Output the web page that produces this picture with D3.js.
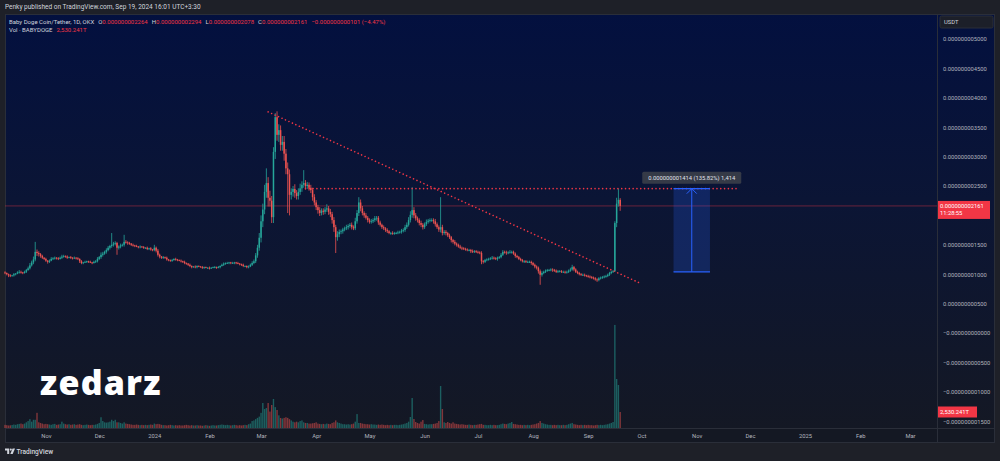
<!DOCTYPE html>
<html><head><meta charset="utf-8">
<script src="https://cdn.jsdelivr.net/npm/d3@7"></script>
<style>
html,body{margin:0;padding:0;background:#1e2028;}
svg{display:block;font-family:Roboto,"Noto Sans",sans-serif;}
</style></head><body>
<svg id="c" width="1000" height="461"></svg>
<script>
// ---------------- DATA (prices in units of 1e-9 USDT, volume in T) ----------------
const startDate = "2023-10-09";
const firstOpen = 1.03;
const closes = [
1.02,1.00,0.98,0.97,0.98,1.00,1.01,1.03,1.04,1.03,
1.02,1.04,1.07,1.10,1.15,1.20,1.25,1.38,1.36,1.34,
1.31,1.28,1.26,1.23,1.21,1.23,1.26,1.27,1.28,1.27,
1.26,1.28,1.30,1.31,1.30,1.28,1.29,1.28,1.27,1.28,
1.27,1.26,1.22,1.19,1.20,1.21,1.22,1.21,1.20,1.19,
1.21,1.22,1.26,1.29,1.33,1.35,1.38,1.41,1.45,1.48,
1.50,1.52,1.53,1.45,1.47,1.49,1.50,1.55,1.54,1.53,
1.52,1.50,1.49,1.48,1.47,1.46,1.47,1.46,1.45,1.45,
1.43,1.44,1.42,1.41,1.45,1.40,1.33,1.30,1.28,1.29,
1.28,1.25,1.24,1.23,1.24,1.26,1.25,1.24,1.23,1.22,
1.21,1.19,1.18,1.16,1.14,1.12,1.13,1.12,1.14,1.13,
1.12,1.11,1.12,1.11,1.11,1.10,1.11,1.12,1.12,1.11,
1.12,1.14,1.16,1.18,1.19,1.19,1.20,1.19,1.19,1.20,
1.19,1.18,1.17,1.16,1.14,1.14,1.12,1.13,1.16,1.19,
1.22,1.32,1.45,1.62,1.90,2.10,2.40,2.55,2.30,2.25,
1.97,3.08,3.67,3.37,3.45,3.20,3.25,3.05,2.80,2.70,
2.35,2.40,2.45,2.38,2.33,2.40,2.46,2.52,2.55,2.50,
2.52,2.47,2.43,2.31,2.22,2.14,2.09,2.04,2.08,2.06,
2.10,2.12,2.06,2.02,1.92,1.80,1.63,1.68,1.72,1.73,
1.76,1.78,1.80,1.82,1.84,1.80,1.78,1.90,2.04,2.22,
2.12,2.04,2.00,1.96,1.92,1.89,1.90,1.92,1.95,1.96,
1.88,1.84,1.80,1.78,1.75,1.73,1.70,1.70,1.69,1.70,
1.70,1.71,1.72,1.74,1.75,1.80,1.84,1.92,2.01,2.09,
2.00,1.95,1.92,1.87,1.84,1.80,1.85,1.89,1.91,1.92,
1.92,1.90,1.85,1.80,1.76,1.80,1.70,1.72,1.70,1.66,
1.63,1.58,1.55,1.52,1.50,1.47,1.45,1.44,1.43,1.42,
1.41,1.41,1.39,1.38,1.39,1.38,1.37,1.36,1.22,1.21,
1.24,1.25,1.26,1.27,1.28,1.27,1.26,1.28,1.29,1.33,
1.38,1.37,1.36,1.37,1.38,1.38,1.35,1.31,1.29,1.26,
1.24,1.22,1.22,1.21,1.21,1.21,1.19,1.16,1.13,1.11,
1.05,0.99,1.02,1.04,1.06,1.07,1.07,1.08,1.07,1.06,
1.04,1.05,1.05,1.04,1.04,1.03,1.04,1.06,1.08,1.12,
1.08,1.04,1.02,1.00,0.99,0.99,0.98,0.97,0.96,0.95,
0.94,0.93,0.91,0.90,0.93,0.94,0.95,0.96,0.97,0.99,
1.02,1.04,1.05,1.87,2.20,2.264,2.161];
// upper / lower wick lengths, in hundredths of 1e-9
const wickUp = [
2,1,1,2,1,2,1,2,3,2, 1,2,2,3,4,3,5,17,4,3, 2,2,1,2,1,2,3,2,2,1, 2,2,3,2,1,2,1,2,1,2,
1,2,1,2,1,2,1,1,2,1, 2,2,3,2,4,3,2,3,3,2, 20,3,3,2,2,3,2,12,3,2, 2,1,2,1,2,1,2,1,2,1,
2,1,2,1,5,2,3,2,1,2, 1,2,1,1,2,1,2,1,1,2, 1,2,1,1,2,1,1,2,1,1, 1,2,1,1,1,2,1,1,2,1,
2,1,2,2,1,2,1,1,2,1, 1,2,1,1,2,1,1,2,2,3, 3,4,5,8,10,10,12,25,10,12, 8,8,7,10,10,8,10,10,8,10,
8,6,5,8,5,6,8,6,22,5, 5,4,5,4,5,4,4,5,4,4, 4,7,4,5,4,5,4,5,4,3, 3,3,4,3,3,4,3,6,5,9,
5,4,3,4,3,3,4,3,4,3, 3,3,2,3,2,3,2,2,3,2, 2,3,2,3,3,4,4,5,6,39, 5,4,3,3,4,3,3,4,3,3,
3,3,4,3,3,51,4,3,3,2, 3,2,2,3,2,2,3,2,2,2, 2,2,2,3,2,2,2,2,3,2, 2,2,2,2,3,2,2,2,2,3,
3,2,3,2,3,2,2,2,2,2, 2,2,2,2,2,2,2,2,2,2, 2,3,3,2,2,2,2,2,2,2, 2,2,2,2,2,2,2,2,3,4,
2,2,2,2,2,2,2,1,2,2, 2,2,2,2,2,2,2,2,2,2, 2,2,2,3,10,19.1,3];
const wickDn = [
2,2,3,2,1,2,2,1,2,2, 2,1,2,1,2,2,3,3,5,4, 3,2,2,2,3,2,1,2,2,2, 2,1,2,2,2,2,1,2,2,1,
2,2,3,2,2,1,2,2,1,2, 1,2,2,2,3,3,2,3,2,3, 3,3,3,12,3,3,2,3,2,3, 2,2,2,2,1,2,2,1,2,2,
2,2,2,2,2,3,3,3,2,2, 2,2,2,2,2,1,2,2,1,2, 2,2,2,2,2,2,1,2,2,1, 1,2,2,1,2,2,1,1,2,2,
1,2,1,2,2,1,2,2,1,2, 2,1,2,2,2,2,2,2,1,2, 2,3,4,5,8,10,8,10,15,10, 10,10,12,10,12,10,10,12,10,66,
35,8,8,8,6,6,5,6,5,6, 5,5,5,6,5,5,6,5,4,5, 4,4,5,5,6,8,27,6,5,4, 4,3,3,4,3,4,3,3,4,5,
5,4,4,3,4,3,3,3,3,4, 4,3,3,3,3,3,2,3,2,2, 2,2,2,3,3,3,3,3,4,5, 5,4,4,4,4,4,3,3,3,3,
3,4,4,3,4,5,4,3,4,3, 3,4,3,3,3,2,2,3,2,2, 2,2,3,2,2,2,2,2,5,3, 2,2,2,2,2,2,2,3,2,2,
2,2,3,2,2,3,2,3,2,2, 2,2,3,2,2,2,3,2,3,3, 4,17,3,2,2,2,2,2,3,2, 2,2,2,2,2,2,2,2,2,2,
3,2,2,2,2,2,2,2,2,2, 2,2,2,3,2,2,2,2,2,2, 2,2,2,0.9,7,5,8.3];
const volumes = [
500,450,400,420,480,550,500,600,650,700, 600,700,900,1100,1400,1000,1300,1300,2400,900,
800,700,600,650,600,550,500,600,650,500, 550,600,1000,700,600,550,600,500,550,600,
500,550,600,500,450,500,550,500,450,500, 500,550,650,800,1700,1100,900,850,900,1000,
1300,1100,1300,900,900,800,700,900,700,650, 600,550,500,500,550,500,450,500,450,500,
450,500,550,500,700,600,650,600,500,450, 450,400,450,500,450,400,450,400,450,400,
400,450,500,450,400,450,400,400,450,400, 400,350,400,450,400,350,400,450,400,400,
450,500,550,500,450,500,450,400,450,500, 450,400,450,400,450,500,450,600,700,1100,
1200,1400,1600,1800,2400,3950,3000,3160,3950,2600, 3640,4590,3300,2850,2000,1580,1500,1600,1700,1600,
1400,1200,1000,900,1000,900,1100,1200,900,800, 800,700,700,750,800,900,700,650,600,650,
600,700,650,600,800,900,1200,900,800,700, 600,600,550,600,550,600,700,1000,2200,800,
800,700,650,600,600,550,600,550,550,500, 550,500,550,500,450,500,450,500,450,500,
500,450,500,550,600,700,800,1000,1740,4740, 1420,950,800,700,1000,1260,650,600,550,600,
600,650,700,800,1100,6640,3000,900,800,950, 800,700,900,700,650,600,550,600,550,500,
500,550,500,450,500,500,550,600,650,500, 500,450,450,500,450,500,450,450,500,600,
700,650,600,700,800,950,650,600,550,500, 500,450,500,450,500,450,500,550,600,700,
800,1100,800,700,600,550,500,500,450,500, 450,500,450,450,500,450,500,600,700,800,
600,550,500,450,500,450,500,450,500,450, 450,400,450,500,450,500,450,500,550,600,
700,800,950,16300,7750,6800,2530.241];

const priceTicks = [5,4.5,4,3.5,3,2.5,1.5,1,0.5,0,-0.5,-1,-1.5];
const priceTickLabels = ["0.000000005000","0.000000004500","0.000000004000","0.000000003500",
  "0.000000003000","0.000000002500","0.000000001500","0.000000001000",
  "0.000000000500","\u22120.000000000000","\u22120.000000000500","\u22120.000000001000","\u22120.000000001500"];
const timeTicks = ["2023-11-01","2023-12-01","2024-01-01","2024-02-01","2024-03-01","2024-04-01",
  "2024-05-01","2024-06-01","2024-07-01","2024-08-01","2024-09-01","2024-10-01","2024-11-01",
  "2024-12-01","2025-01-01","2025-02-01","2025-03-01"];
const timeTickLabels = ["Nov","Dec","2024","Feb","Mar","Apr","May","Jun","Jul","Aug","Sep","Oct","Nov","Dec","2025","Feb","Mar"];

const publishText = "Penky published on TradingView.com, Sep 19, 2024 16:01 UTC+3:30";
const symbolTitle = "Baby Doge Coin/Tether, 1D, OKX";
const ohlcKeys = ["O","H","L","C"];
const ohlcValues = ["0.000000002264","0.000000002294","0.000000002078","0.000000002161"];
const changeText = "\u22120.000000000101 (\u22124.47%)";
const volTitle = "Vol \u00B7 BABYDOGE";
const volValueText = "2,530.241T";
const lastPrice = 2.161, lastPriceText = "0.000000002161", countdown = "11:28:55";
const trendLine = [["2024-03-05",3.76],["2024-09-30",0.85]];
const resistLine = [["2024-03-26",2.455],["2024-11-25",2.455]];
const measure = {from:"2024-10-19", to:"2024-11-08T12:00", low:1.041, high:2.455,
  label:"0.000000001414 (135.82%) 1,414"};

// ---------------- DRAW ----------------
const W=1000,H=461;
const PX0=5, PX1=937, PY0=14, PY1=428, AX1=995, TY1=443;
const UP="#26a69a", DN="#ef5350", RED="#f23645";
const svg=d3.select("#c");
const defs=svg.append("defs");
const gr=defs.append("linearGradient").attr("id","bg").attr("x1",0).attr("y1",0).attr("x2",0).attr("y2",1);
gr.append("stop").attr("offset","0%").attr("stop-color","#03103f");
gr.append("stop").attr("offset","45%").attr("stop-color","#0b1535");
gr.append("stop").attr("offset","100%").attr("stop-color","#141824");

svg.append("rect").attr("width",W).attr("height",H).attr("fill","#1e2028");
svg.append("rect").attr("x",PX0).attr("y",PY0).attr("width",AX1-PX0).attr("height",PY1-PY0).attr("fill","url(#bg)");
svg.append("rect").attr("x",PX0).attr("y",PY1).attr("width",AX1-PX0).attr("height",TY1-PY1).attr("fill","#141823");
svg.append("line").attr("x1",PX0).attr("x2",AX1).attr("y1",PY1+0.5).attr("y2",PY1+0.5).attr("stroke","#2a2e39");
svg.append("line").attr("x1",PX1+0.5).attr("x2",PX1+0.5).attr("y1",PY0).attr("y2",TY1).attr("stroke","#2a2e39");
svg.append("rect").attr("x",PX0+0.5).attr("y",PY0+0.5).attr("width",AX1-PX0-1).attr("height",TY1-PY0-1)
  .attr("fill","none").attr("stroke","#2a2e39");

const parse = s => new Date(s.length>10 ? s+"Z" : s+"T00:00Z");
const t0 = parse(startDate);
const dates = closes.map((_,i)=> new Date(t0.getTime()+i*864e5));
const x = d3.scaleUtc().domain([parse("2023-10-09"),parse("2025-03-01")]).range([5,910]);
const y = d3.scaleLinear().domain([0,5]).range([333,39]);
const yv = d3.scaleLinear().domain([0,2530.241]).range([PY1,412]);

const bars = closes.map((c,i)=>{
  const o = i===0 ? firstOpen : closes[i-1];
  return {d:dates[i], o, c, h:Math.max(o,c)+wickUp[i]/100, l:Math.min(o,c)-wickDn[i]/100, v:volumes[i]};
});

// volume
svg.append("g").selectAll("rect").data(bars).join("rect")
  .attr("x",d=>x(d.d)-0.7).attr("width",1.4)
  .attr("y",d=>yv(d.v)).attr("height",d=>PY1-yv(d.v))
  .attr("fill",d=>d.c>=d.o?UP:DN).attr("fill-opacity",0.5);

// watermark
svg.append("text").attr("x",40).attr("y",395).attr("font-family","'Open Sans',sans-serif")
  .attr("font-weight",800).attr("font-size",34).attr("letter-spacing",1.2).attr("fill","#ffffff").text("zedarz");

// current price line
svg.append("line").attr("x1",PX0).attr("x2",PX1).attr("y1",y(lastPrice)).attr("y2",y(lastPrice))
  .attr("stroke",RED).attr("stroke-opacity",0.4).attr("stroke-width",1);

// candles
const cg = svg.append("g");
cg.selectAll("line").data(bars).join("line")
  .attr("x1",d=>x(d.d)).attr("x2",d=>x(d.d)).attr("y1",d=>y(d.h)).attr("y2",d=>y(d.l))
  .attr("stroke",d=>d.c>=d.o?UP:DN).attr("stroke-width",0.8);
cg.selectAll("rect").data(bars).join("rect")
  .attr("x",d=>x(d.d)-0.75).attr("width",1.5)
  .attr("y",d=>y(Math.max(d.o,d.c))).attr("height",d=>Math.max(0.8,Math.abs(y(d.o)-y(d.c))))
  .attr("fill",d=>d.c>=d.o?UP:DN);

// drawings
const dotted = (pts)=> svg.append("line")
  .attr("x1",x(parse(pts[0][0]))).attr("y1",y(pts[0][1]))
  .attr("x2",x(parse(pts[1][0]))).attr("y2",y(pts[1][1]))
  .attr("stroke",RED).attr("stroke-width",1.6).attr("stroke-linecap","round")
  .attr("stroke-dasharray","0.01 3.8");
dotted(trendLine);
dotted(resistLine);

// measurement tool
const mx0=x(parse(measure.from)), mx1=x(parse(measure.to)), myT=y(measure.high), myB=y(measure.low);
const mcx=(mx0+mx1)/2;
svg.append("rect").attr("x",mx0).attr("y",myT).attr("width",mx1-mx0).attr("height",myB-myT)
  .attr("fill","#2962ff").attr("fill-opacity",0.22);
[myT,myB].forEach(v=>svg.append("line").attr("x1",mx0).attr("x2",mx1).attr("y1",v).attr("y2",v)
  .attr("stroke","#2962ff").attr("stroke-width",1.3));
svg.append("line").attr("x1",mcx).attr("x2",mcx).attr("y1",myB).attr("y2",myT).attr("stroke","#2962ff").attr("stroke-width",1);
svg.append("path").attr("d",`M${mcx-5},${myT+5}L${mcx},${myT}L${mcx+5},${myT+5}`)
  .attr("fill","none").attr("stroke","#2962ff").attr("stroke-width",1);
const mlW=99, mlH=12;
svg.append("rect").attr("x",mcx-mlW/2).attr("y",myT-17).attr("width",mlW).attr("height",mlH).attr("rx",1.5)
  .attr("fill","#3a3e49").attr("fill-opacity",0.92);
svg.append("text").attr("x",mcx).attr("y",myT-11).attr("dy","0.35em").attr("text-anchor","middle")
  .attr("font-size",5.8).attr("fill","#e0e3eb").text(measure.label);

// price axis
const ya = svg.append("g").attr("transform",`translate(${PX1+6},0)`)
  .call(d3.axisRight(y).tickValues(priceTicks).tickFormat((d,i)=>priceTickLabels[i]).tickSize(0).tickPadding(0));
ya.select(".domain").remove();
ya.selectAll("text").attr("font-size",5.8).attr("fill","#b2b5be").attr("font-family","Roboto,sans-serif");

// time axis
const xa = svg.append("g").attr("transform",`translate(0,${PY1})`)
  .call(d3.axisBottom(x).tickValues(timeTicks.map(parse)).tickFormat((d,i)=>timeTickLabels[i]).tickSize(0).tickPadding(0));
xa.select(".domain").remove();
xa.selectAll("text").attr("y",8).attr("dy","0.35em").attr("font-size",5.8).attr("fill","#b2b5be").attr("font-family","Roboto,sans-serif");

// USDT box
svg.append("rect").attr("x",940).attr("y",16).attr("width",53).attr("height",12).attr("rx",1.5)
  .attr("fill","#1c1f29").attr("stroke","#2a2e39");
svg.append("text").attr("x",944).attr("y",22).attr("dy","0.35em").attr("font-size",5.8).attr("fill","#d1d4dc").text("USDT");

// price label
const ly=y(lastPrice);
svg.append("rect").attr("x",PX1+1).attr("y",ly-5).attr("width",52).attr("height",18).attr("fill",RED);
svg.append("text").attr("x",PX1+3).attr("y",ly+0.5).attr("dy","0.35em").attr("font-size",5.8).attr("fill","#fff").text(lastPriceText);
svg.append("text").attr("x",PX1+3).attr("y",ly+7.5).attr("dy","0.35em").attr("font-size",5.8).attr("fill","#fff").text(countdown);
// volume label
const vly=yv(volumes[volumes.length-1]);
svg.append("rect").attr("x",PX1+1).attr("y",vly-5.5).attr("width",39).attr("height",11).attr("fill",RED);
svg.append("text").attr("x",PX1+3).attr("y",vly).attr("dy","0.35em").attr("font-size",5.8).attr("fill","#fff").text(volValueText);

// header
svg.append("text").attr("x",5).attr("y",7).attr("dy","0.35em").attr("font-size",6.5).attr("fill","#d1d4dc").text(publishText);
const hd = svg.append("text").attr("x",9).attr("y",22).attr("dy","0.35em").attr("font-size",6).attr("fill","#d1d4dc");
hd.append("tspan").text(symbolTitle);
ohlcKeys.forEach((k,i)=>{
  hd.append("tspan").attr("dx",4).text(k);
  hd.append("tspan").attr("fill",RED).text(ohlcValues[i]);
});
hd.append("tspan").attr("dx",4).attr("fill",RED).text(changeText);
const hv = svg.append("text").attr("x",9).attr("y",29.5).attr("dy","0.35em").attr("font-size",6).attr("fill","#d1d4dc");
hv.append("tspan").text(volTitle);
hv.append("tspan").attr("dx",4).attr("fill",RED).text(volValueText);

// TradingView logo
const lg = svg.append("g").attr("fill","#d1d4dc");
lg.append("path").attr("d","M5,448.5h4.2v5.5h-2v-3.6h-2.2z");
lg.append("circle").attr("cx",10.8).attr("cy",449.6).attr("r",1.05);
lg.append("path").attr("d","M12.6,448.5h2.4l-2.3,5.5h-2.4z");
svg.append("text").attr("x",16.5).attr("y",451.3).attr("dy","0.35em").attr("font-size",6.6).attr("font-weight",500)
  .attr("fill","#d1d4dc").text("TradingView");
</script>
</body></html>
